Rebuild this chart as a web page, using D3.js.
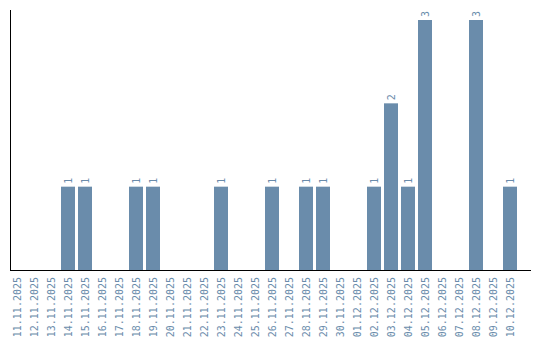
<!DOCTYPE html>
<html>
<head>
<meta charset="utf-8">
<script src="https://cdn.jsdelivr.net/npm/d3@7"></script>
<style>
  body { margin: 0; background: #fff; }
  svg text { font-family: "DejaVu Sans Mono", "Liberation Mono", monospace; font-size: 10px; fill: #6a8cab; }
</style>
</head>
<body>
<svg class="container" width="540" height="340"></svg>
<script>
let dates = ["11.11.2025", "12.11.2025", "13.11.2025", "14.11.2025", "15.11.2025", "16.11.2025",
    "17.11.2025", "18.11.2025", "19.11.2025", "20.11.2025", "21.11.2025", "22.11.2025",
    "23.11.2025", "24.11.2025", "25.11.2025", "26.11.2025", "27.11.2025", "28.11.2025",
    "29.11.2025", "30.11.2025", "01.12.2025", "02.12.2025", "03.12.2025", "04.12.2025",
    "05.12.2025", "06.12.2025", "07.12.2025", "08.12.2025", "09.12.2025", "10.12.2025"];
let counts = [0, 0, 0, 1, 1, 0, 0, 1, 1, 0, 0, 0, 1, 0, 0, 1, 0, 1, 1, 0, 0, 1, 2, 1, 3, 0, 0, 3, 0, 1];

let barColor = "#6a8cab";
let plotLeft = 10, plotTop = 10, plotBottom = 270, axisEnd = 531;

let svg = d3.select(".container");

let x = d3.scaleBand()
    .domain(dates)
    .range([plotLeft, 517])
    .paddingInner(3 / 17)
    .paddingOuter(0)
    .align(0);

let y = d3.scaleLinear()
    .domain([0, d3.max(counts) * 1.04])
    .range([plotBottom, plotTop]);

let data = dates.map((d, i) => ({ date: d, value: counts[i] }));

// bars
svg.selectAll("rect.bar")
    .data(data.filter(d => d.value > 0))
    .enter()
    .append("rect")
    .attr("class", "bar")
    .attr("x", d => x(d.date))
    .attr("y", d => y(d.value))
    .attr("width", x.bandwidth())
    .attr("height", d => y(0) - y(d.value))
    .style("fill", barColor);

// value labels above bars
svg.selectAll("text.val")
    .data(data.filter(d => d.value > 0))
    .enter()
    .append("text")
    .attr("class", "val")
    .attr("transform", d => `translate(${x(d.date) + x.bandwidth() / 2 + 4},${y(d.value) - 3}) rotate(-90)`)
    .attr("text-anchor", "start")
    .text(d => d.value);

// x tick labels
svg.selectAll("text.tick")
    .data(dates)
    .enter()
    .append("text")
    .attr("class", "tick")
    .attr("transform", d => `translate(${x(d) + x.bandwidth() / 2 + 4},${plotBottom + 7}) rotate(-90)`)
    .attr("text-anchor", "end")
    .text(d => d);

// axis lines
svg.append("line")
    .attr("x1", plotLeft + 0.5).attr("y1", plotTop)
    .attr("x2", plotLeft + 0.5).attr("y2", plotBottom)
    .style("stroke", "#000").style("stroke-width", 1);
svg.append("line")
    .attr("x1", plotLeft).attr("y1", plotBottom + 0.5)
    .attr("x2", axisEnd).attr("y2", plotBottom + 0.5)
    .style("stroke", "#000").style("stroke-width", 1);
</script>
</body>
</html>
